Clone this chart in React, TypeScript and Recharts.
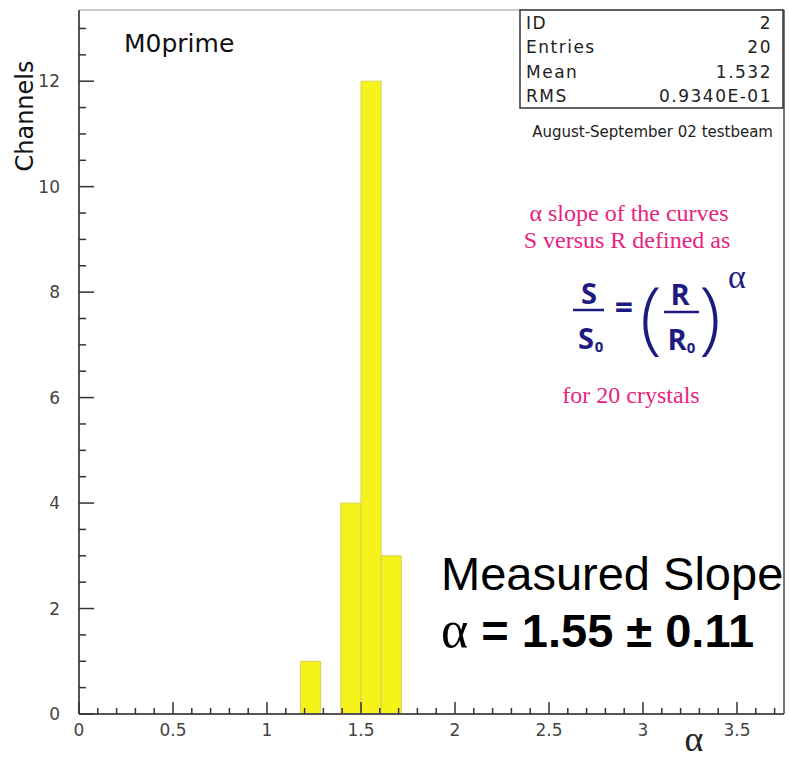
import { ComposedChart, XAxis, YAxis, ReferenceArea, ReferenceLine, Line } from "recharts";

// histogram contents (35 bins from 0 to 3.75, only non-empty bins listed)
const binLow = [1.1786, 1.3929, 1.5, 1.6071];
const binCounts = [1, 4, 12, 3];
const binWidth = 0.1071;

const xMajorTicks = [0, 0.5, 1, 1.5, 2, 2.5, 3, 3.5];
const xTickLabels = ["0", "0.5", "1", "1.5", "2", "2.5", "3", "3.5"];
const yMajorTicks = [0, 2, 4, 6, 8, 10, 12];
const yTickLabels = ["0", "2", "4", "6", "8", "10", "12"];

const statNames = ["ID", "Entries", "Mean", "RMS"];
const statValues = ["2", "20", "1.532", "0.9340E-01"];

const X_MAX = 3.75;
const Y_MAX = 13.35;

// minor ticks every 0.1 in x, every 0.5 in y
const xTicks = Array.from({ length: 38 }, (_, i) => i / 10);
const yTicks = Array.from({ length: 27 }, (_, i) => i / 2);

const rows = binLow.map((lo, i) => ({ x: lo + binWidth / 2, count: binCounts[i] }));

const AXIS = "#555";
const LABEL = "#444";
const PINK = "#e8237f";
const NAVY = "#1e1b80";

function XTick({ x, y, payload }: any) {
  const idx = xMajorTicks.indexOf(payload.value);
  const major = idx >= 0;
  return (
    <g>
      <line x1={x} x2={x} y1={y} y2={y - (major ? 12 : 6)} stroke="#333" strokeWidth={1.5} />
      {major && (
        <text
          x={x}
          y={y + 16}
          textAnchor="middle"
          dominantBaseline="central"
          fontFamily="DejaVu Sans"
          fontSize={17}
          fill={LABEL}
        >
          {xTickLabels[idx]}
        </text>
      )}
    </g>
  );
}

function YTick({ x, y, payload }: any) {
  const idx = yMajorTicks.indexOf(payload.value);
  const major = idx >= 0;
  return (
    <g>
      <line x1={x} x2={x + (major ? 15 : 7)} y1={y} y2={y} stroke="#333" strokeWidth={1.5} />
      {major && (
        <text
          x={x - 19}
          y={y}
          textAnchor="end"
          dominantBaseline="central"
          fontFamily="DejaVu Sans"
          fontSize={17}
          fill={LABEL}
        >
          {yTickLabels[idx]}
        </text>
      )}
    </g>
  );
}

function Annotations() {
  const sans = "DejaVu Sans";
  const serif = "Liberation Serif";
  const math = "Open Sans";
  return (
    <svg
      width={789}
      height={763}
      style={{ position: "absolute", left: 0, top: 0, pointerEvents: "none" }}
    >
      <text x={124} y={52} fontFamily={sans} fontSize={25} fill="#111">
        M0prime
      </text>
      <text
        x={33}
        y={116}
        transform="rotate(-90 33 116)"
        textAnchor="middle"
        fontFamily={sans}
        fontSize={24}
        fill="#111"
      >
        Channels
      </text>

      {/* stats box */}
      <rect x={520} y={10} width={263} height={98} fill="#fff" stroke="#333" strokeWidth={1.5} />
      {statNames.map((n, i) => (
        <g key={n}>
          <text
            x={526}
            y={23 + i * 24.3}
            dominantBaseline="central"
            fontFamily={sans}
            fontSize={17}
            letterSpacing={1.5}
            fill="#222"
          >
            {n}
          </text>
          <text
            x={772}
            y={23 + i * 24.3}
            textAnchor="end"
            dominantBaseline="central"
            fontFamily={sans}
            fontSize={17}
            letterSpacing={1.5}
            fill="#222"
          >
            {statValues[i]}
          </text>
        </g>
      ))}
      <text x={773} y={132} textAnchor="end" dominantBaseline="central" fontFamily={sans} fontSize={15} fill="#222">
        August-September 02 testbeam
      </text>

      {/* description */}
      <text x={629} y={213} textAnchor="middle" dominantBaseline="central" fontFamily={serif} fontSize={24} fill={PINK}>
        α slope of the curves
      </text>
      <text x={627} y={240} textAnchor="middle" dominantBaseline="central" fontFamily={serif} fontSize={24} fill={PINK}>
        S versus R defined as
      </text>
      <text x={631} y={395} textAnchor="middle" dominantBaseline="central" fontFamily={serif} fontSize={24} fill={PINK}>
        for 20 crystals
      </text>

      {/* formula S/S0 = (R/R0)^alpha */}
      <g fill={NAVY} fontFamily={math} fontWeight={700}>
        <text x={589} y={292} textAnchor="middle" dominantBaseline="central" fontSize={29}>S</text>
        <line x1={573} x2={604} y1={310} y2={310} stroke={NAVY} strokeWidth={2.5} />
        <text x={586} y={337} textAnchor="middle" dominantBaseline="central" fontSize={29}>S</text>
        <text x={599} y={346} textAnchor="middle" dominantBaseline="central" fontSize={15}>0</text>
        <text x={624} y={306} textAnchor="middle" dominantBaseline="central" fontSize={32}>=</text>
        <text x={651} y={312} textAnchor="middle" dominantBaseline="central" fontSize={80} fontWeight={300}>(</text>
        <text x={680} y={293} textAnchor="middle" dominantBaseline="central" fontSize={29}>R</text>
        <line x1={664} x2={699} y1={312} y2={312} stroke={NAVY} strokeWidth={2.5} />
        <text x={677} y={338} textAnchor="middle" dominantBaseline="central" fontSize={29}>R</text>
        <text x={691} y={347} textAnchor="middle" dominantBaseline="central" fontSize={15}>0</text>
        <text x={710} y={312} textAnchor="middle" dominantBaseline="central" fontSize={80} fontWeight={300}>)</text>
        <text x={737} y={276} textAnchor="middle" dominantBaseline="central" fontSize={34} fontFamily={serif} fontWeight={400}>α</text>
      </g>

      {/* result */}
      <text x={441} y={590} fontFamily="Liberation Sans" fontSize={47} fill="#000">
        Measured Slope
      </text>
      <text x={441} y={647} fontFamily="Liberation Sans" fontSize={47} fontWeight={700} fill="#000">
        <tspan fontFamily={serif} fontWeight={400} fontSize={52}>α</tspan> = 1.55 ± 0.11
      </text>

      {/* x axis title */}
      <text x={694} y={751} textAnchor="middle" fontFamily={serif} fontSize={36} fill="#222">
        α
      </text>
    </svg>
  );
}

export default function App() {
  return (
    <div style={{ position: "absolute", left: 0, top: 0, width: 789, height: 763, background: "#fff" }}>
      <ComposedChart width={789} height={763} data={rows} margin={{ top: 10, right: 5, left: 0, bottom: 0 }}>
        <XAxis
          dataKey="x"
          type="number"
          domain={[0, X_MAX]}
          ticks={xTicks}
          interval={0}
          tickSize={0}
          tickMargin={0}
          tickLine={false}
          tick={<XTick />}
          axisLine={{ stroke: AXIS, strokeWidth: 2 }}
          height={49}
          allowDataOverflow
        />
        <YAxis
          type="number"
          domain={[0, Y_MAX]}
          ticks={yTicks}
          interval={0}
          tickSize={0}
          tickMargin={0}
          tickLine={false}
          tick={<YTick />}
          axisLine={{ stroke: AXIS, strokeWidth: 2 }}
          width={79}
          allowDataOverflow
        />
        <ReferenceLine y={Y_MAX} stroke="#999" strokeWidth={1.2} />
        <ReferenceLine x={X_MAX} stroke="#777" strokeWidth={2} />
        {binLow.map((lo, i) => (
          <ReferenceArea
            key={lo}
            x1={lo}
            x2={lo + binWidth}
            y1={0}
            y2={binCounts[i]}
            fill="#f6f31b"
            fillOpacity={1}
            stroke="#d6d15a"
            strokeWidth={1}
          />
        ))}
        <Line dataKey="count" stroke="none" dot={false} activeDot={false} isAnimationActive={false} />
      </ComposedChart>
      <Annotations />
    </div>
  );
}
